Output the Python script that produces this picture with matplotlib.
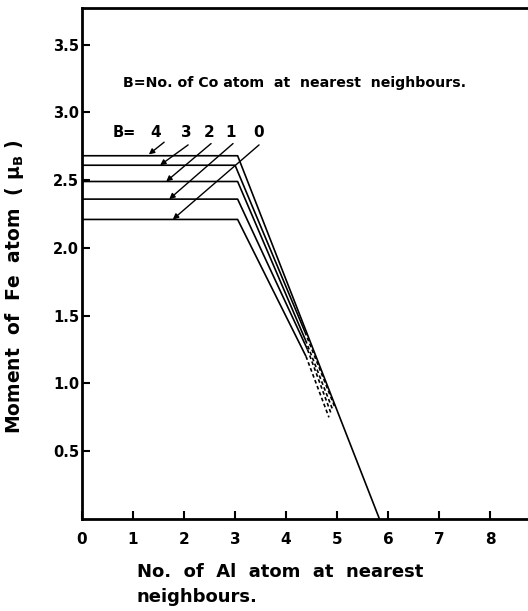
import matplotlib.pyplot as plt

# Fe moment vs. number of Al nearest neighbours, one curve per Co count B
b_values = [4, 3, 2, 1, 0]
moment_flat = [2.68, 2.61, 2.49, 2.36, 2.21]      # moment for 0..3 Al neighbours
bend_x = [3.05, 3.00, 3.05, 3.05, 3.05]
solid_end = [(5.83, 0.0), (4.37, 1.38), (4.38, 1.32), (4.42, 1.25), (4.39, 1.20)]
dash_end = [None, (4.95, 0.83), (4.92, 0.80), (4.88, 0.78), (4.84, 0.75)]

# label positions above the curves and where each arrow lands
label_x = [1.45, 2.04, 2.49, 2.92, 3.47]
arrow_tail = [(1.61, 2.78), (2.08, 2.76), (2.53, 2.77), (2.96, 2.77), (3.47, 2.76)]
arrow_head = [(1.31, 2.69), (1.53, 2.61), (1.65, 2.49), (1.71, 2.36), (1.78, 2.21)]

x_ticks = [0, 1, 2, 3, 4, 5, 6, 7, 8]
y_ticks = [0.5, 1.0, 1.5, 2.0, 2.5, 3.0, 3.5]

plt.rcParams['font.family'] = 'DejaVu Sans'
plt.rcParams['font.weight'] = 'bold'

fig = plt.figure(figsize=(5.28, 6.11), dpi=100)
ax = fig.add_axes([82 / 528, 92 / 611, (531 - 82) / 528, 511 / 611])

for i, b in enumerate(b_values):
    xs = [0, bend_x[i], solid_end[i][0]]
    ys = [moment_flat[i], moment_flat[i], solid_end[i][1]]
    ax.plot(xs, ys, color='black', lw=1.2, solid_capstyle='butt')
    if dash_end[i] is not None:
        ax.plot([solid_end[i][0], dash_end[i][0]], [solid_end[i][1], dash_end[i][1]],
                color='black', lw=1.2, linestyle=(0, (2.2, 1.6)))
    ax.text(label_x[i], 2.85, str(b), fontsize=11, fontweight='bold', ha='center', va='center')
    ax.annotate('', xy=arrow_head[i], xytext=arrow_tail[i],
                arrowprops=dict(arrowstyle='-|>', color='black', lw=1.0,
                                mutation_scale=8, shrinkA=0, shrinkB=0))

ax.text(0.83, 2.85, 'B=', fontsize=10.5, fontweight='bold', ha='center', va='center')
ax.text(0.80, 3.22, 'B=No. of Co atom  at  nearest  neighbours.', fontsize=10.2,
        fontweight='bold', ha='left', va='center')

ax.set_xlim(0, 8.8)
ax.set_ylim(0, 3.77)
ax.set_xticks(x_ticks)
ax.set_yticks(y_ticks)
ax.set_xticklabels([str(v) for v in x_ticks], fontsize=11, fontweight='bold')
ax.set_yticklabels([f'{v:.1f}' for v in y_ticks], fontsize=10.5, fontweight='bold')
ax.tick_params(axis='x', direction='in', length=6, width=1.5, pad=9)
ax.tick_params(axis='y', direction='in', length=6, width=1.5, pad=2)

for side in ['left', 'bottom', 'top']:
    ax.spines[side].set_linewidth(2.0)
ax.spines['right'].set_visible(False)

# two-line x label, left aligned under the axis
fig.text(137 / 528, 1 - 563 / 611, 'No.  of  Al  atom  at  nearest\nneighbours.', fontsize=13,
         fontweight='bold', ha='left', va='top', linespacing=1.5)
ax.set_ylabel(r'Moment  of  Fe  atom  ( $\mathbf{\mu_B}$ )', fontsize=13.5, fontweight='bold')
ax.yaxis.set_label_coords(-0.125, 0.455)

fig.savefig('out.png', dpi=100)
